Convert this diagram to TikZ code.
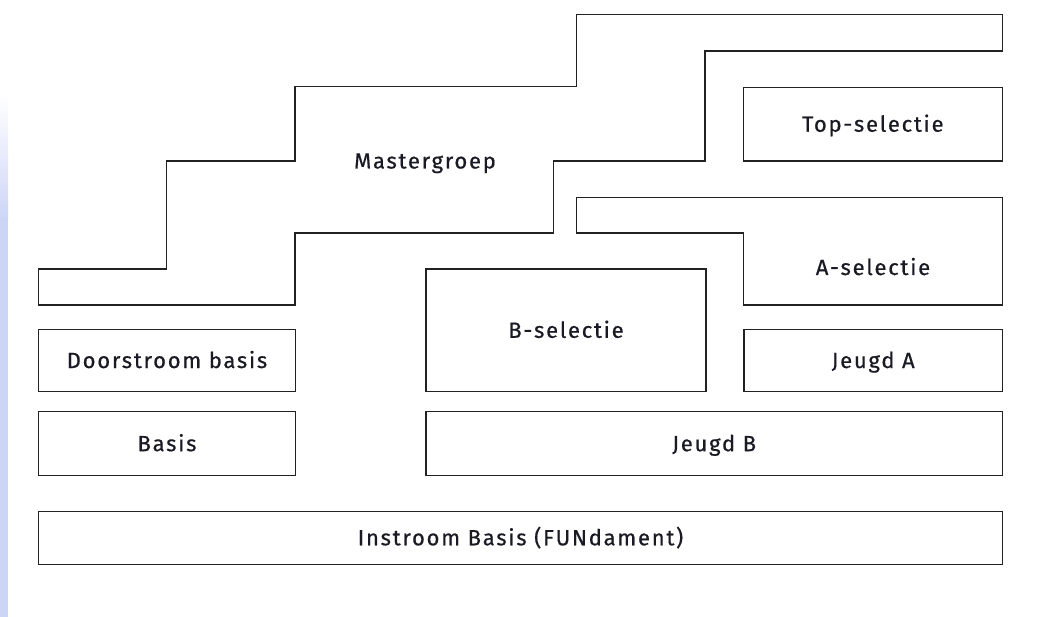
\documentclass[tikz,border=0pt]{standalone}
\usepackage{fontspec}
\setmainfont{Fira Sans}[LetterSpace=8, FakeBold=0.6]
\definecolor{bandblue}{HTML}{CDD5F7}
\definecolor{linecol}{HTML}{222222}
\definecolor{txtcol}{HTML}{1A1A24}
\begin{document}
\begin{tikzpicture}[x=1pt,y=-1pt,
  box/.style={draw=linecol, line width=1.3pt, inner sep=0pt, minimum width=#1},
  lbl/.style={inner sep=0pt, text=txtcol, font=\fontsize{22}{26}\selectfont, text height=15pt, text depth=0pt},
  shapeline/.style={draw=linecol, line width=1.3pt, line join=miter}]
\useasboundingbox (0,0) rectangle (1038,617);
% left band
\shade[top color=white, bottom color=bandblue] (0,95) rectangle (8,220);
\fill[bandblue] (0,220) rectangle (8,617);
% Mastergroep outline
\draw[shapeline] (38.7,305) -- (38.7,269) -- (166.7,269) -- (166.7,161) -- (295,161) -- (295,86.7)
  -- (576.7,86.7) -- (576.7,14.7) -- (1002.3,14.7) -- (1002.3,51) -- (705,51) -- (705,161)
  -- (553.3,161) -- (553.3,233) -- (295,233) -- (295,305) -- cycle;
\node[lbl] (master) at (425,161) {Mastergroep};
% A-selectie outline
\draw[shapeline] (576.7,197.3) -- (1002.3,197.3) -- (1002.3,305) -- (743.3,305) -- (743.3,233) -- (576.7,233) -- cycle;
\node[lbl] (asel) at (873,267.5) {A-selectie};
% rectangular boxes
\node[box=259pt, minimum height=73.7pt] (topbox) at (872.8,124.2) {};
\node[lbl] (top) at (topbox.center) {Top-selectie};
\node[box=280pt, minimum height=122.7pt] (bbox) at (566,330.3) {};
\node[lbl] (bsel) at (bbox.center) {B-selectie};
\node[box=258.3pt, minimum height=62.4pt] (jabox) at (873.2,360.5) {};
\node[lbl] (ja) at (jabox.center) {Jeugd A};
\node[box=256.6pt, minimum height=62.4pt] (dbox) at (167,360.5) {};
\node[lbl] (door) at (dbox.center) {Doorstroom basis};
\node[box=256.6pt, minimum height=64pt] (basbox) at (167,443.7) {};
\node[lbl] (basis) at (basbox.center) {Basis};
\node[box=576.3pt, minimum height=64pt] (jbbox) at (714.2,443.7) {};
\node[lbl] (jb) at (jbbox.center) {Jeugd B};
\node[box=963.6pt, minimum height=53pt] (inbox) at (520.5,537.8) {};
\node[lbl] (instroom) at (inbox.center) {Instroom Basis (FUNdament)};
\end{tikzpicture}
\end{document}
